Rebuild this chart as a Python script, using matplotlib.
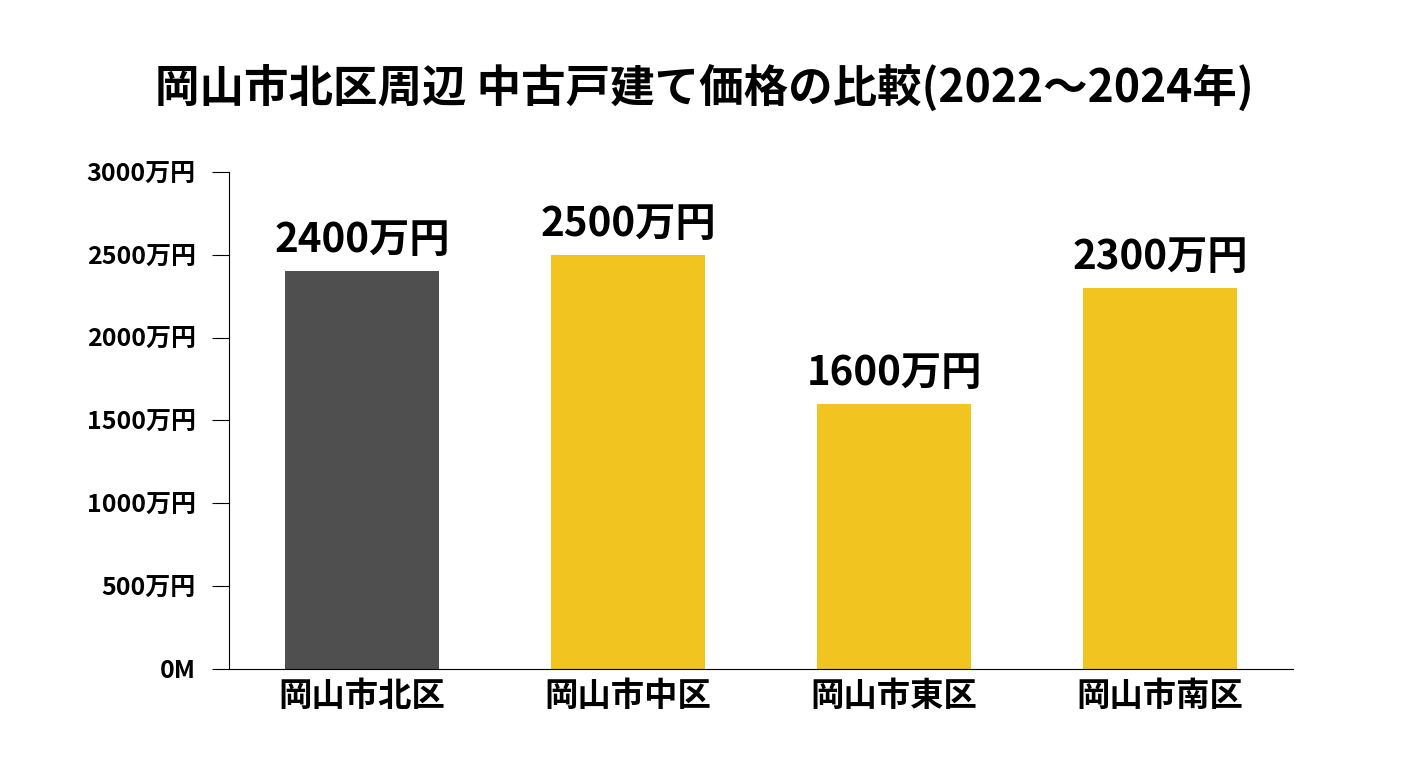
import matplotlib
matplotlib.use('Agg')
from matplotlib import pyplot as plt

plt.rcParams['font.family'] = ['Noto Sans CJK JP', 'DejaVu Sans']

areas = ['岡山市北区', '岡山市中区', '岡山市東区', '岡山市南区']
prices = [2400, 2500, 1600, 2300]
colors = ['#4f4f4f', '#f2c420', '#f2c420', '#f2c420']

fig = plt.figure(figsize=(14.08, 7.68), dpi=100)
ax = fig.add_axes([0.1626, 0.129, 0.7557, 0.647])

ax.bar(range(len(areas)), prices, width=0.58, color=colors)
for i, p in enumerate(prices):
    ax.text(i, p + 60, '%d万円' % p, ha='center', va='bottom',
            fontsize=29, fontweight='bold')

ax.set_xlim(-0.5, 3.5)
ax.set_ylim(0, 3000)
yt = [0, 500, 1000, 1500, 2000, 2500, 3000]
ax.set_yticks(yt)
ax.set_yticklabels(['0M'] + ['%d万円' % v for v in yt[1:]], fontsize=18, fontweight='bold')
ax.set_xticks(range(len(areas)))
ax.set_xticklabels(areas, fontsize=24, fontweight='bold')
ax.tick_params(axis='x', length=0, pad=8)
ax.tick_params(axis='y', length=12, pad=12)
ax.spines['top'].set_visible(False)
ax.spines['right'].set_visible(False)

fig.text(0.5, 0.885, '岡山市北区周辺 中古戸建て価格の比較(2022～2024年)',
         ha='center', va='center', fontsize=32, fontweight='bold')

fig.savefig('out.png', dpi=100)
